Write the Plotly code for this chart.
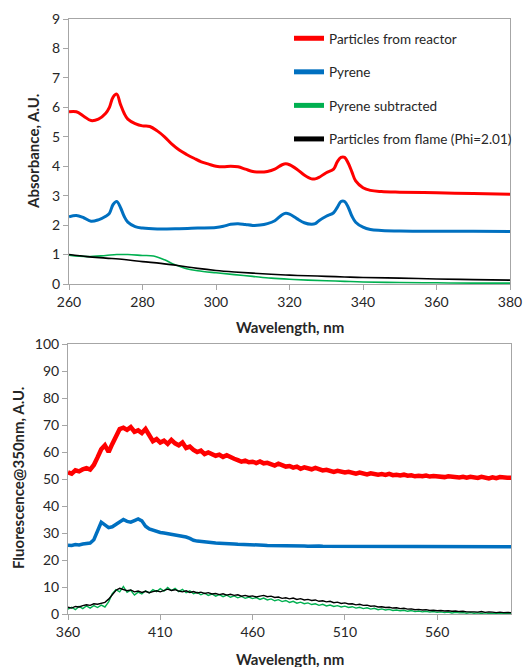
import plotly.graph_objects as go

# ---------------- Top panel: absorbance ----------------
reactor_x = [260, 262, 264, 266, 268, 270, 271, 272, 273, 274, 275, 276, 278, 280, 282, 284, 286, 288, 290,
             292, 294, 296, 298, 300, 302, 304, 306, 308, 310, 312, 314, 316, 318, 319, 320, 322, 324, 326,
             327, 328, 330, 332, 333, 334, 335, 336, 337, 338, 340, 342, 345, 350, 360, 370, 380]
reactor_y = [5.85, 5.85, 5.7, 5.55, 5.6, 5.8, 6.0, 6.35, 6.45, 6.1, 5.8, 5.6, 5.45, 5.37, 5.35, 5.2, 5.0,
             4.75, 4.55, 4.4, 4.27, 4.15, 4.07, 4.0, 3.98, 4.0, 3.98, 3.9, 3.82, 3.8, 3.82, 3.9, 4.05, 4.08,
             4.05, 3.9, 3.7, 3.57, 3.57, 3.62, 3.78, 3.9, 4.15, 4.3, 4.3, 4.1, 3.8, 3.5, 3.27, 3.18, 3.14,
             3.12, 3.1, 3.07, 3.05]

pyrene_x = [260, 262, 264, 266, 268, 270, 271, 272, 273, 274, 275, 276, 278, 280, 284, 290, 295, 300, 302,
            304, 306, 308, 310, 312, 314, 316, 318, 319, 320, 322, 324, 326, 327, 328, 330, 332, 333, 334,
            335, 336, 337, 338, 340, 342, 345, 350, 360, 370, 380]
pyrene_y = [2.28, 2.33, 2.25, 2.13, 2.18, 2.3, 2.4, 2.7, 2.8, 2.6, 2.3, 2.1, 1.95, 1.9, 1.87, 1.88, 1.9,
            1.92, 1.96, 2.03, 2.05, 2.02, 1.99, 2.0, 2.05, 2.15, 2.35, 2.4, 2.37, 2.22, 2.08, 2.03, 2.05,
            2.15, 2.3, 2.42, 2.6, 2.8, 2.8, 2.6, 2.3, 2.1, 1.93, 1.85, 1.82, 1.8, 1.79, 1.79, 1.78]

subtr_x = [260, 265, 270, 273, 276, 280, 283, 286, 288, 290, 292, 295, 300, 305, 310, 315, 320, 325, 330,
           335, 340, 350, 360, 370, 380]
subtr_y = [0.98, 0.93, 0.97, 1.0, 1.0, 0.97, 0.95, 0.82, 0.7, 0.6, 0.52, 0.45, 0.38, 0.32, 0.26, 0.2, 0.16,
           0.13, 0.11, 0.09, 0.07, 0.05, 0.04, 0.03, 0.03]

flame_x = [260, 265, 270, 275, 280, 285, 290, 295, 300, 305, 310, 315, 320, 325, 330, 335, 340, 350, 360,
           370, 380]
flame_y = [1.0, 0.93, 0.88, 0.83, 0.76, 0.7, 0.62, 0.53, 0.46, 0.41, 0.37, 0.33, 0.3, 0.28, 0.26, 0.24,
           0.22, 0.2, 0.17, 0.15, 0.13]

# ---------------- Bottom panel: fluorescence (360..600 nm, step 2) ----------------
fl_x = list(range(360, 601, 2))
fl_reactor = [52.5, 52.0, 53.2, 52.8, 53.6, 54.0, 53.5, 55.2, 58.0, 61.0,
              62.5, 60.0, 63.0, 66.0, 68.5, 69.0, 68.2, 69.2, 67.5, 68.0,
              67.0, 68.5, 66.5, 64.0, 64.8, 63.5, 64.2, 63.0, 64.5, 63.2,
              62.5, 63.5, 61.5, 62.0, 60.8, 60.0, 60.5, 59.2, 59.8, 59.0,
              58.6, 59.0, 58.2, 58.8, 58.0, 57.5, 57.0, 56.4, 56.8, 56.2,
              56.4, 55.9, 56.5, 55.8, 56.0, 55.6, 55.0, 55.7, 55.2, 54.6,
              54.8, 54.2, 54.6, 53.8, 54.3, 54.0, 53.6, 54.1, 53.5, 53.2,
              53.4, 53.0, 52.6, 53.0, 52.5, 52.4, 52.7, 52.2, 52.0, 52.4,
              52.0, 51.7, 52.1, 51.8, 51.6, 51.8, 51.5, 51.9, 51.4, 51.6,
              51.3, 51.6, 51.2, 51.4, 51.0, 51.2, 51.0, 51.3, 50.9, 51.1,
              50.9, 51.1, 50.7, 51.0, 50.8, 50.9, 50.6, 50.8, 50.5, 50.8,
              50.6, 50.4, 50.8, 50.5, 50.2, 50.6, 50.3, 50.7, 50.4, 50.5,
              50.5]
fl_pyrene = [25.5, 25.4, 25.7, 25.6, 25.9, 26.0, 26.3, 27.5, 31.0, 34.0,
             33.0, 32.0, 32.3, 33.2, 34.2, 35.0, 34.3, 34.0, 34.6, 35.2,
             34.5, 32.5, 31.5, 31.0, 30.5, 30.2, 30.0, 29.8, 29.5, 29.4,
             29.2, 29.0, 28.5, 28.0, 27.3, 27.0, 26.8, 26.7, 26.5, 26.4,
             26.3, 26.2, 26.2, 26.0, 26.0, 25.9, 25.8, 25.8, 25.7, 25.6,
             25.6, 25.5, 25.5, 25.5, 25.4, 25.4, 25.5, 25.3, 25.4, 25.3,
             25.3, 25.2, 25.3, 25.2, 25.2, 25.1, 25.2, 25.1, 25.2, 25.1,
             25.1, 25.0, 25.1, 25.1, 25.0, 25.1, 25.0, 25.0, 25.1, 25.0,
             25.0, 25.0, 25.1, 25.0, 25.0, 24.9, 25.0, 25.0, 24.9, 25.0,
             25.0, 24.9, 25.0, 25.0, 24.9, 25.0, 24.9, 25.0, 25.0, 24.9,
             25.0, 24.9, 25.0, 24.9, 25.0, 24.9, 25.0, 24.9, 25.0, 24.9,
             24.9, 25.0, 24.9, 24.9, 25.0, 24.9, 24.9, 25.0, 24.9, 24.9,
             24.9]
fl_subtr = [1.8, 2.5, 1.6, 2.8, 2.0, 3.0, 2.2, 3.1, 2.4, 3.3,
            2.6, 4.5, 7.5, 9.0, 8.2, 10.2, 8.0, 8.8, 7.0, 8.1,
            7.4, 8.6, 7.8, 9.0, 8.3, 9.4, 8.5, 9.8, 8.7, 9.5,
            8.3, 9.1, 7.9, 8.6, 7.5, 8.0, 7.1, 7.7, 6.9, 7.4,
            6.6, 7.2, 6.4, 7.0, 6.2, 6.7, 6.0, 6.5, 5.8, 6.3,
            5.7, 6.1, 5.4, 5.9, 5.2, 5.6, 4.9, 5.3, 4.6, 5.0,
            4.3, 4.7, 4.0, 4.4, 3.8, 4.1, 3.5, 3.8, 3.2, 3.6,
            3.0, 3.3, 2.8, 3.1, 2.6, 2.9, 2.4, 2.7, 2.2, 2.5,
            2.0, 2.3, 1.8, 2.1, 1.6, 1.9, 1.5, 1.7, 1.3, 1.5,
            1.2, 1.4, 1.0, 1.3, 0.9, 1.1, 0.8, 1.0, 0.7, 0.9,
            0.6, 0.8, 0.5, 0.7, 0.4, 0.6, 0.4, 0.5, 0.3, 0.5,
            0.3, 0.4, 0.2, 0.4, 0.2, 0.3, 0.2, 0.3, 0.1, 0.3,
            0.2]
fl_flame = [2.5, 2.2, 2.8, 2.6, 3.1, 3.4, 3.2, 3.8, 3.6, 4.0,
            4.3, 5.5, 7.2, 8.8, 9.5, 9.0, 8.6, 8.9, 8.2, 8.5,
            8.0, 8.4, 7.9, 8.3, 8.6, 8.2, 8.8, 9.2, 8.7, 9.0,
            8.5, 8.2, 8.6, 8.0, 8.3, 7.8, 8.1, 7.6, 7.9, 7.4,
            7.6, 7.2, 7.5, 7.0, 7.3, 6.9, 7.1, 6.6, 6.9, 6.5,
            6.7, 6.3, 6.6, 6.9, 6.4, 6.6, 6.1, 6.3, 5.8, 6.0,
            5.6, 5.9, 5.4, 5.7, 5.2, 5.4, 5.0, 5.2, 4.7, 4.9,
            4.5, 4.7, 4.2, 4.4, 3.9, 4.1, 3.7, 3.8, 3.4, 3.6,
            3.2, 3.3, 2.9, 3.0, 2.6, 2.7, 2.4, 2.5, 2.2, 2.3,
            2.0, 2.1, 1.8, 1.9, 1.6, 1.7, 1.5, 1.6, 1.3, 1.4,
            1.2, 1.3, 1.1, 1.2, 1.0, 1.1, 0.9, 1.0, 0.8, 0.9,
            0.8, 0.7, 0.9, 0.6, 0.8, 0.7, 0.5, 0.7, 0.5, 0.6,
            0.5]

top_xticks = [260, 280, 300, 320, 340, 360, 380]
top_yticks = [0, 1, 2, 3, 4, 5, 6, 7, 8, 9]
bot_xticks = [360, 410, 460, 510, 560]
bot_yticks = [0, 10, 20, 30, 40, 50, 60, 70, 80, 90, 100]

names = ["Particles from reactor", "Pyrene", "Pyrene subtracted", "Particles from flame (Phi=2.01)"]
colors = ["#FF0000", "#0070C0", "#00B050", "#000000"]

W, H = 523, 667
FONT = "Lato"

fig = go.Figure()
top_series = [(reactor_x, reactor_y, 3), (pyrene_x, pyrene_y, 3), (subtr_x, subtr_y, 1.6), (flame_x, flame_y, 1.6)]
for i, (xs, ys, w) in enumerate(top_series):
    fig.add_trace(go.Scatter(x=xs, y=ys, mode="lines", name=names[i], legendgroup=str(i),
                             line=dict(color=colors[i], width=w, shape="spline"),
                             xaxis="x", yaxis="y"))

bot_series = [(fl_reactor, 4.5), (fl_pyrene, 3.5), (fl_subtr, 1.4), (fl_flame, 1.4)]
for i, (ys, w) in enumerate(bot_series):
    fig.add_trace(go.Scatter(x=fl_x, y=ys, mode="lines", name=names[i], showlegend=False,
                             line=dict(color=colors[i], width=w),
                             xaxis="x2", yaxis="y2"))

axis_common = dict(showgrid=False, zeroline=False, showline=True, linecolor="#A6A6A6", linewidth=1,
                   mirror=True, ticks="outside", ticklen=5, tickcolor="#A6A6A6", automargin=False,
                   tickfont=dict(family=FONT, size=14, color="#262626"))

fig.update_layout(
    width=W, height=H, margin=dict(l=0, r=0, t=0, b=0, autoexpand=False),
    paper_bgcolor="white", plot_bgcolor="white",
    font=dict(family=FONT, color="#262626"),
    xaxis=dict(domain=[69 / W, 510 / W], range=[260, 380], tickvals=top_xticks, anchor="y", **axis_common),
    yaxis=dict(domain=[1 - 284 / H, 1 - 19 / H], range=[0, 9], tickvals=top_yticks, anchor="x", **axis_common),
    xaxis2=dict(domain=[68 / W, 511 / W], range=[360, 600], tickvals=bot_xticks, anchor="y2", **axis_common),
    yaxis2=dict(domain=[1 - 614 / H, 1 - 344 / H], range=[0, 100], tickvals=bot_yticks, anchor="x2", **axis_common),
    showlegend=True,
    legend=dict(x=289 / W, y=1 - 23 / H, xanchor="left", yanchor="top", bgcolor="rgba(0,0,0,0)",
                font=dict(family=FONT, size=13.5, color="#262626"), tracegroupgap=13, itemwidth=30,
                itemsizing="constant"),
)

title_font = dict(family=FONT, size=15, color="#262626")
annots = [
    dict(text="<b>Wavelength, nm</b>", x=290 / W, y=1 - 327 / H),
    dict(text="<b>Wavelength, nm</b>", x=290 / W, y=1 - 659 / H),
    dict(text="<b>Absorbance, A.U.</b>", x=33 / W, y=1 - 152 / H, textangle=-90),
    dict(text="<b>Fluorescence@350nm, A.U.</b>", x=18 / W, y=1 - 478 / H, textangle=-90),
]
for a in annots:
    fig.add_annotation(xref="paper", yref="paper", showarrow=False, xanchor="center", yanchor="middle",
                       font=title_font, **a)

fig.write_html("out.html")
